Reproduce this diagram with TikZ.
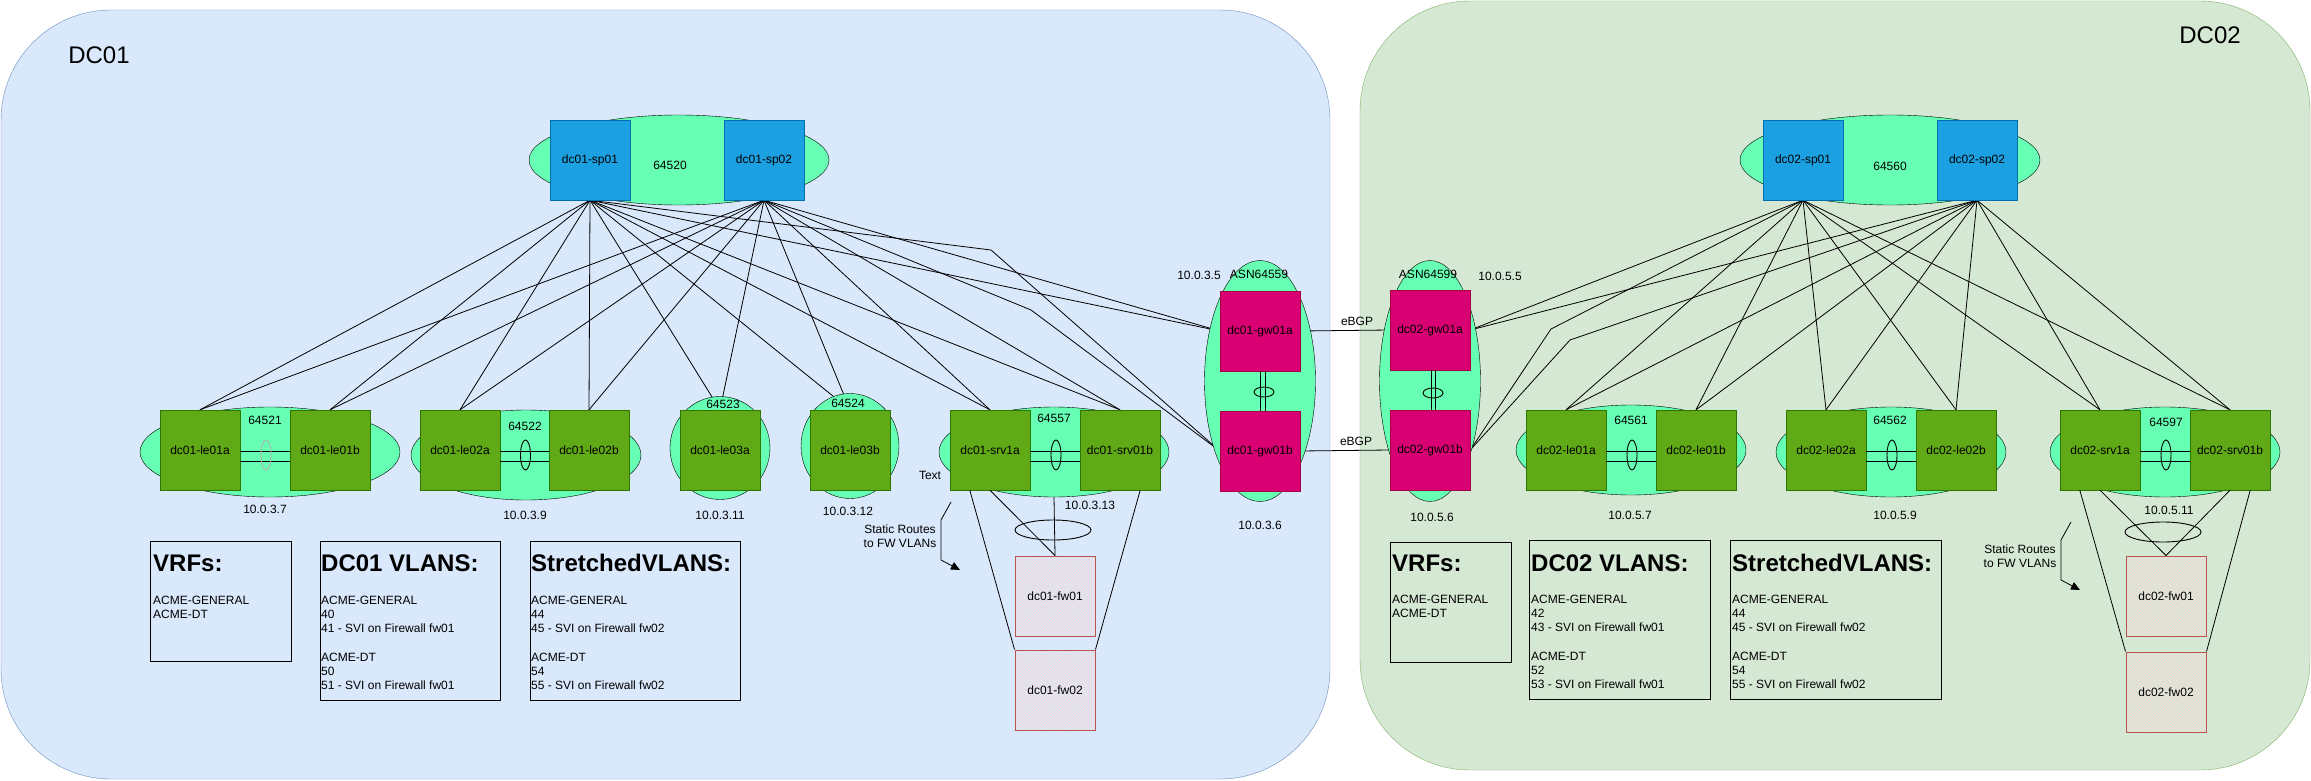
\documentclass[tikz,border=0pt]{standalone}
\usepackage{fontspec}
\setmainfont{Liberation Sans}
\usetikzlibrary{shapes.geometric,arrows.meta,patterns,calc}
\definecolor{mint}{HTML}{66FFB3}
\definecolor{dcblue}{HTML}{DAE8FC}
\definecolor{dcblueline}{HTML}{6C8EBF}
\definecolor{dcgreen}{HTML}{D5E8D4}
\definecolor{dcgreenline}{HTML}{82B366}
\definecolor{spfill}{HTML}{1BA1E2}
\definecolor{spline}{HTML}{006EAF}
\definecolor{lffill}{HTML}{60A917}
\definecolor{lfline}{HTML}{2D7600}
\definecolor{gwfill}{HTML}{D80073}
\definecolor{gwline}{HTML}{A50040}
\definecolor{fwline}{HTML}{B85450}
\definecolor{fwhatch}{HTML}{F2CFCC}
\pgfdeclarelayer{back}
\pgfdeclarelayer{wires}
\pgfsetlayers{back,wires,main}
\tikzset{
  asn/.style={ellipse, fill=mint, draw=black, inner sep=0pt},
  switchbox/.style={rectangle, minimum width=80pt, minimum height=80pt, inner sep=0pt},
  spine/.style={switchbox, fill=spfill, draw=spline},
  leaf/.style={switchbox, fill=lffill, draw=lfline},
  gway/.style={switchbox, fill=gwfill, draw=gwline},
  fwall/.style={switchbox, draw=fwline, line width=1pt,
    preaction={fill=white, fill opacity=0.15},
    pattern=north east lines, pattern color=fwhatch},
  lbl/.style={inner sep=0pt},
  wire/.style={draw=black, line width=0.8pt},
  peer/.style={ellipse, draw=black, line width=0.9pt, inner sep=0pt},
  infobox/.style={draw=black, line width=1pt},
  heading/.style={inner sep=0pt, anchor=base west, font=\fontsize{24}{28}\selectfont\bfseries},
  bodytext/.style={inner sep=0pt, anchor=north west, align=left, font=\fontsize{12}{14.3}\selectfont},
}
\begin{document}
\begin{tikzpicture}[x=1pt, y=-1pt, line width=1pt, font=\fontsize{12}{14.3}\selectfont]
\useasboundingbox (0,0) rectangle (2311,781);

% ---------- data centre areas ----------
\begin{pgfonlayer}{back}
  \fill[white] (0,0) rectangle (2311,781);
  \draw[fill=dcblue, draw=dcblueline, rounded corners=110pt] (1,10) rectangle (1330,779);
  \draw[fill=dcgreen, draw=dcgreenline, rounded corners=110pt] (1360,1) rectangle (2310,770);
\end{pgfonlayer}
\node[lbl, font=\fontsize{24}{28}\selectfont] (dc1name) at (99,55) {DC01};
\node[lbl, font=\fontsize{24}{28}\selectfont] (dc2name) at (2210,35) {DC02};

% ---------- ASN groups ----------
\node[asn, minimum width=300pt, minimum height=90pt] (as520) at (679,160) {};
\node[asn, minimum width=260pt, minimum height=90pt] (as521) at (270,452) {};
\node[asn, minimum width=230pt, minimum height=90pt] (as522) at (526,455) {};
\node[asn, minimum width=100pt, minimum height=103pt] (as523) at (720,448) {};
\node[asn, minimum width=98pt, minimum height=105pt] (as524) at (850,446) {};
\node[asn, minimum width=230pt, minimum height=90pt] (as557) at (1054,452) {};
\node[asn, minimum width=111pt, minimum height=241pt] (as559) at (1260,381) {};
\node[asn, minimum width=101pt, minimum height=241pt] (as599) at (1430,381) {};
\node[asn, minimum width=300pt, minimum height=90pt] (as560) at (1890,160) {};
\node[asn, minimum width=230pt, minimum height=90pt] (as561) at (1631,450) {};
\node[asn, minimum width=230pt, minimum height=90pt] (as562) at (1891,452) {};
\node[asn, minimum width=230pt, minimum height=90pt] (as597) at (2165,452) {};

% ---------- DC01 switches ----------
\node[spine] (asp1) at (590,160) {dc01-sp01};
\node[spine] (asp2) at (764,160) {dc01-sp02};
\node[leaf] (al1a) at (200,450) {dc01-le01a};
\node[leaf] (al1b) at (330,450) {dc01-le01b};
\node[leaf] (al2a) at (460,450) {dc01-le02a};
\node[leaf] (al2b) at (589,450) {dc01-le02b};
\node[leaf] (al3a) at (720,450) {dc01-le03a};
\node[leaf] (al3b) at (850,450) {dc01-le03b};
\node[leaf] (asva) at (990,450) {dc01-srv1a};
\node[leaf] (asvb) at (1120,450) {dc01-srv01b};
\node[gway] (agwa) at (1260,331) {dc01-gw01a};
\node[gway] (agwb) at (1260,451) {dc01-gw01b};
\node[fwall] (afw1) at (1055,596) {dc01-fw01};
\node[fwall] (afw2) at (1055,690) {dc01-fw02};

% ---------- DC02 switches ----------
\node[spine] (bsp1) at (1803,160) {dc02-sp01};
\node[spine] (bsp2) at (1977,160) {dc02-sp02};
\node[gway] (bgwa) at (1430,330) {dc02-gw01a};
\node[gway] (bgwb) at (1430,450) {dc02-gw01b};
\node[leaf] (bl1a) at (1566,450) {dc02-le01a};
\node[leaf] (bl1b) at (1696,450) {dc02-le01b};
\node[leaf] (bl2a) at (1826,450) {dc02-le02a};
\node[leaf] (bl2b) at (1956,450) {dc02-le02b};
\node[leaf] (bsva) at (2100,450) {dc02-srv1a};
\node[leaf] (bsvb) at (2230,450) {dc02-srv01b};
\node[fwall] (bfw1) at (2166,596) {dc02-fw01};
\node[fwall] (bfw2) at (2166,692) {dc02-fw02};

% ---------- fabric links (behind the shapes) ----------
\coordinate (abend1) at (991,250);
\coordinate (abend2) at (1031,310);
\coordinate (bbend1) at (1551,329);
\coordinate (bbend2) at (1570,340);
\begin{pgfonlayer}{wires}
  \foreach \s in {asp1,asp2} {
    \foreach \t in {al1a,al1b,al2a,al2b,al3a,al3b,asva,asvb}
      \draw[wire] (\s.south) -- (\t.north);
    \draw[wire] (\s.south) -- (agwa.west);
  }
  \draw[wire] (asp1.south) -- (abend1) -- (agwb.west);
  \draw[wire] (asp2.south) -- (abend2) -- (agwb.west);
  \foreach \s in {bsp1,bsp2} {
    \foreach \t in {bl1a,bl1b,bl2a,bl2b,bsva,bsvb}
      \draw[wire] (\s.south) -- (\t.north);
    \draw[wire] (\s.south) -- (bgwa.east);
  }
  \draw[wire] (bsp1.south) -- (bbend1) -- (bgwb.east);
  \draw[wire] (bsp2.south) -- (bbend2) -- (bgwb.east);
  % eBGP between the data centres
  \draw[wire] (agwa.east) -- (bgwa.west);
  \draw[wire] (agwb.east) -- (bgwb.west);
\end{pgfonlayer}
\node[lbl] (ebgp1) at (1357,321) {eBGP};
\node[lbl] (ebgp2) at (1356,441) {eBGP};

% ---------- MLAG peer links ----------
\foreach \a/\b/\n/\c in {al1a/al1b/pa1/black!30,al2a/al2b/pa2/black,asva/asvb/pa3/black,bl1a/bl1b/pb1/black,bl2a/bl2b/pb2/black,bsva/bsvb/pb3/black} {
  \draw[wire] ([yshift=-1pt]\a.east) -- ([yshift=-1pt]\b.west);
  \draw[wire] ([yshift=-11pt]\a.east) -- ([yshift=-11pt]\b.west);
  \node[peer, draw=\c, minimum width=10pt, minimum height=30pt] (\n) at ($(\a.east)!0.5!(\b.west)+(1,5)$) {};
}
\draw[wire] (agwa.south) -- (agwb.north);
\draw[wire] ([xshift=5pt]agwa.south) -- ([xshift=5pt]agwb.north);
\node[peer, minimum width=20pt, minimum height=10pt] (pga) at (1264,392) {};
\draw[wire] ([xshift=1pt]bgwa.south) -- ([xshift=1pt]bgwb.north);
\draw[wire] ([xshift=5pt]bgwa.south) -- ([xshift=5pt]bgwb.north);
\node[peer, minimum width=20pt, minimum height=10pt] (pgb) at (1433,393) {};

% ---------- firewall attachments ----------
\draw[wire] (as557.south) -- (afw1.north);
\draw[wire] (asva.south) -- (afw1.north);
\draw[wire] ([xshift=20pt]asva.south west) -- (afw2.north west);
\draw[wire] ([xshift=-20pt]asvb.south east) -- (afw2.north east);
\node[peer, minimum width=76pt, minimum height=20pt] (abun) at (1053,530) {};
\draw[wire] (bsva.south) -- (bfw1.north);
\draw[wire] (bsvb.south) -- (bfw1.north);
\draw[wire] ([xshift=20pt]bsva.south west) -- (bfw2.north west);
\draw[wire] ([xshift=-20pt]bsvb.south east) -- (bfw2.north east);
\node[peer, minimum width=76pt, minimum height=20pt] (bbun) at (2163,532) {};

% static route callouts
\coordinate (ar0) at (951,502);
\coordinate (ar1) at (941,520);
\coordinate (ar2) at (941,560);
\coordinate (ar3) at (960,570);
\draw[wire, -{Triangle[length=9pt,width=8pt]}] (ar0) -- (ar1) -- (ar2) -- (ar3);
\node[lbl, align=center] (asr) at (900,536) {Static Routes\\to FW VLANs};
\coordinate (br0) at (2071,522);
\coordinate (br1) at (2061,540);
\coordinate (br2) at (2061,580);
\coordinate (br3) at (2080,590);
\draw[wire, -{Triangle[length=9pt,width=8pt]}] (br0) -- (br1) -- (br2) -- (br3);
\node[lbl, align=center] (bsr) at (2020,556) {Static Routes\\to FW VLANs};

% ---------- ASN and address labels ----------
\node[lbl] (t520) at (670,165) {64520};
\node[lbl] (t521) at (265,420) {64521};
\node[lbl] (a521) at (265,509) {10.0.3.7};
\node[lbl] (t522) at (525,426) {64522};
\node[lbl] (a522) at (525,515) {10.0.3.9};
\node[lbl] (t523) at (723,404) {64523};
\node[lbl] (a523) at (720,515) {10.0.3.11};
\node[lbl] (t524) at (848,403) {64524};
\node[lbl] (a524) at (848,511) {10.0.3.12};
\node[lbl] (t557) at (1054,418) {64557};
\node[lbl] (a557) at (1090,505) {10.0.3.13};
\node[lbl] (txt) at (930,475) {Text};
\node[lbl] (a559a) at (1199,275) {10.0.3.5};
\node[lbl] (t559) at (1259,274) {ASN64559};
\node[lbl] (a559b) at (1260,525) {10.0.3.6};
\node[lbl] (t599) at (1428,274) {ASN64599};
\node[lbl] (a599a) at (1500,276) {10.0.5.5};
\node[lbl] (a599b) at (1432,517) {10.0.5.6};
\node[lbl] (t560) at (1890,166) {64560};
\node[lbl] (t561) at (1631,420) {64561};
\node[lbl] (a561) at (1630,515) {10.0.5.7};
\node[lbl] (t562) at (1890,420) {64562};
\node[lbl] (a562) at (1895,515) {10.0.5.9};
\node[lbl] (t597) at (2166,422) {64597};
\node[lbl] (a597) at (2169,510) {10.0.5.11};

% ---------- VRF / VLAN tables ----------
\draw[infobox] (150,541) rectangle (291,661);
\node[heading] (h1) at (153,571.5) {VRFs:};
\node[bodytext] (b1) at (153,595.5) {ACME-GENERAL\\ACME-DT};
\draw[infobox] (320,541) rectangle (500,700);
\node[heading] (h2) at (321,571.5) {DC01 VLANS:};
\node[bodytext] (b2) at (321,595.5) {ACME-GENERAL\\40\\41 - SVI on Firewall fw01\\[14.3pt]ACME-DT\\50\\51 - SVI on Firewall fw01};
\draw[infobox] (530,541) rectangle (740,700);
\node[heading] (h3) at (531,571.5) {StretchedVLANS:};
\node[bodytext] (b3) at (531,595.5) {ACME-GENERAL\\44\\45 - SVI on Firewall fw02\\[14.3pt]ACME-DT\\54\\55 - SVI on Firewall fw02};

\draw[infobox] (1390,542) rectangle (1511,662);
\node[heading] (h4) at (1392,571.5) {VRFs:};
\node[bodytext] (b4) at (1392,594.5) {ACME-GENERAL\\ACME-DT};
\draw[infobox] (1529,540) rectangle (1710,699);
\node[heading] (h5) at (1531,571.5) {DC02 VLANS:};
\node[bodytext] (b5) at (1531,594.5) {ACME-GENERAL\\42\\43 - SVI on Firewall fw01\\[14.3pt]ACME-DT\\52\\53 - SVI on Firewall fw01};
\draw[infobox] (1730,540) rectangle (1941,699);
\node[heading] (h6) at (1732,571.5) {StretchedVLANS:};
\node[bodytext] (b6) at (1732,594.5) {ACME-GENERAL\\44\\45 - SVI on Firewall fw02\\[14.3pt]ACME-DT\\54\\55 - SVI on Firewall fw02};
\end{tikzpicture}
\end{document}
